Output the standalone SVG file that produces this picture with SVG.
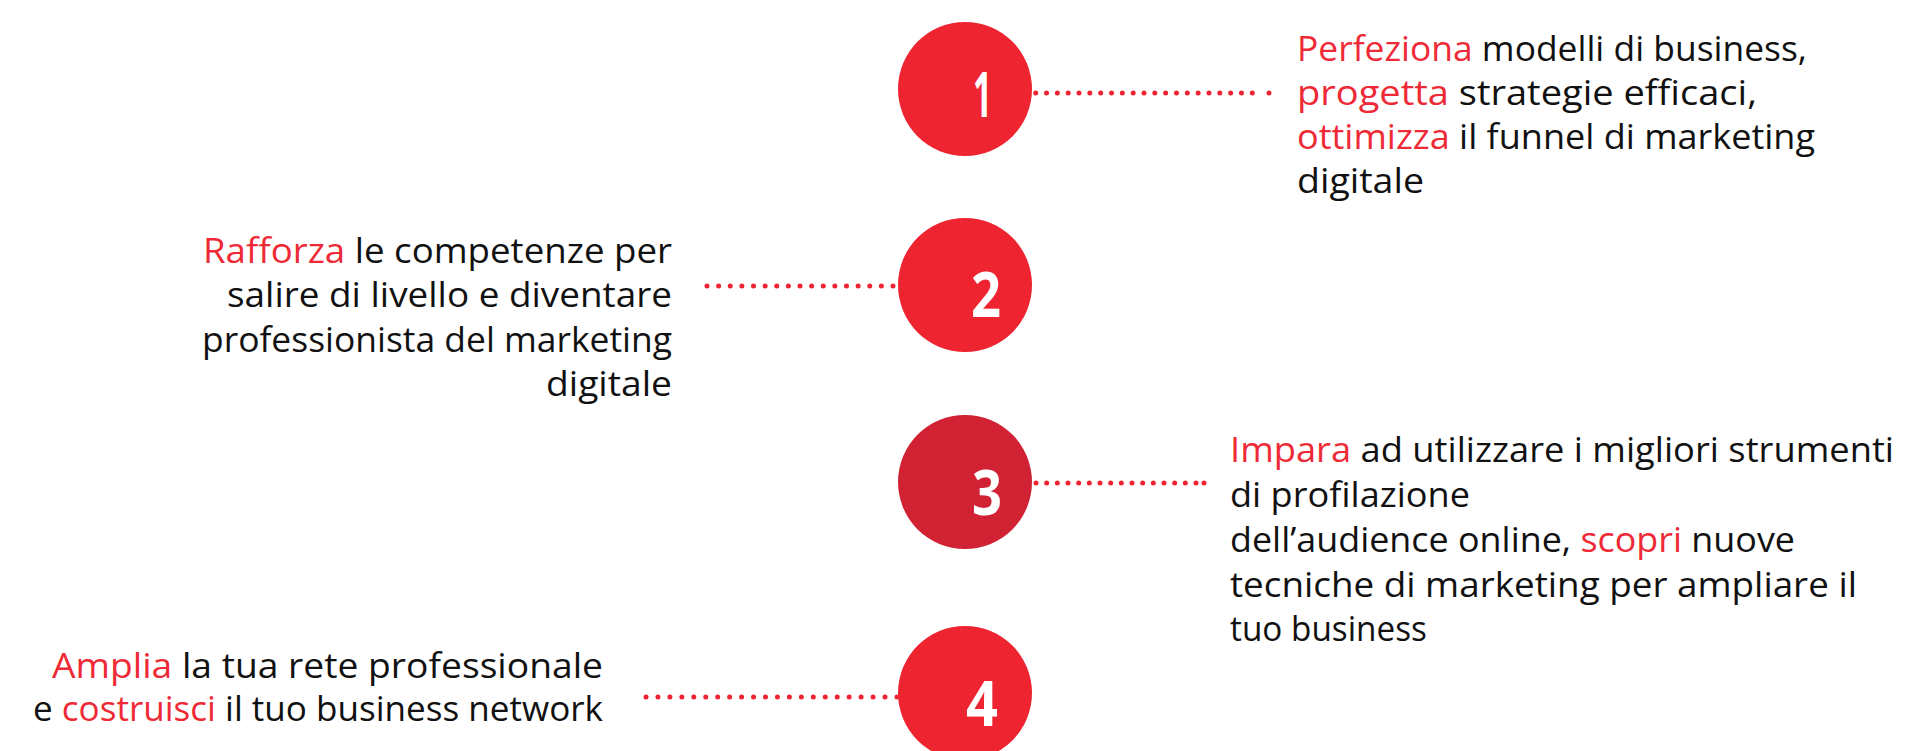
<svg xmlns="http://www.w3.org/2000/svg" width="1911" height="751" viewBox="0 0 1911 751">
<style>
.bg{fill:#ffffff}
.node{fill:#EE2430}
.node3{fill:#D12234}
.num{font-family:"Open Sans","Liberation Sans",sans-serif;font-weight:700;font-size:62px;fill:#ffffff}
.t{font-family:"Open Sans","Liberation Sans",sans-serif;font-size:34px;fill:#111111}
.r{fill:#EE2A36}
.dots{stroke:#EE2430;stroke-width:5;stroke-linecap:round;fill:none}
.dot{fill:#EE2430}
</style>
<rect class="bg" x="0" y="0" width="1911" height="751"/>
<g id="connectors">
  <line class="dots" x1="1035.7" y1="93" x2="1252.8" y2="93" stroke-dasharray="0 10.83"/>
  <circle class="dot" cx="1269" cy="93" r="2.5"/>
  <line class="dots" x1="707" y1="286" x2="893.5" y2="286" stroke-dasharray="0 11.625"/>
  <line class="dots" x1="1036" y1="483" x2="1196.5" y2="483" stroke-dasharray="0 10.667"/>
  <circle class="dot" cx="1204" cy="483" r="2.5"/>
  <line class="dots" x1="646" y1="697" x2="897.5" y2="697" stroke-dasharray="0 11.95"/>
</g>
<g id="node1">
  <circle class="node" cx="965" cy="89" r="67"/>
  <text class="num" x="973" y="117" textLength="19" lengthAdjust="spacingAndGlyphs">1</text>
  <text class="t" x="1297" y="61" textLength="510" lengthAdjust="spacingAndGlyphs"><tspan class="r">Perfeziona</tspan> modelli di business,</text>
  <text class="t" x="1297" y="105" textLength="460" lengthAdjust="spacingAndGlyphs"><tspan class="r">progetta</tspan> strategie efficaci,</text>
  <text class="t" x="1297" y="149" textLength="518" lengthAdjust="spacingAndGlyphs"><tspan class="r">ottimizza</tspan> il funnel di marketing</text>
  <text class="t" x="1297" y="193" textLength="127" lengthAdjust="spacingAndGlyphs">digitale</text>
</g>
<g id="node2">
  <circle class="node" cx="965" cy="285" r="67"/>
  <text class="num" x="971" y="317" textLength="30" lengthAdjust="spacingAndGlyphs">2</text>
  <text class="t" x="203" y="263" textLength="469" lengthAdjust="spacingAndGlyphs"><tspan class="r">Rafforza</tspan> le competenze per</text>
  <text class="t" x="227" y="307" textLength="445" lengthAdjust="spacingAndGlyphs">salire di livello e diventare</text>
  <text class="t" x="202" y="351.5" textLength="470" lengthAdjust="spacingAndGlyphs">professionista del marketing</text>
  <text class="t" x="546" y="396" textLength="126" lengthAdjust="spacingAndGlyphs">digitale</text>
</g>
<g id="node3">
  <circle class="node3" cx="965" cy="482" r="67"/>
  <text class="num" x="972" y="515" textLength="30" lengthAdjust="spacingAndGlyphs">3</text>
  <text class="t" x="1230" y="462" textLength="664" lengthAdjust="spacingAndGlyphs"><tspan class="r">Impara</tspan> ad utilizzare i migliori strumenti</text>
  <text class="t" x="1230" y="507" textLength="240" lengthAdjust="spacingAndGlyphs">di profilazione</text>
  <text class="t" x="1230" y="552" textLength="565" lengthAdjust="spacingAndGlyphs">dell’audience online, <tspan class="r">scopri</tspan> nuove</text>
  <text class="t" x="1230" y="596.5" textLength="627" lengthAdjust="spacingAndGlyphs">tecniche di marketing per ampliare il</text>
  <text class="t" x="1230" y="641" textLength="197" lengthAdjust="spacingAndGlyphs">tuo business</text>
</g>
<g id="node4">
  <circle class="node" cx="965" cy="693" r="67"/>
  <text class="num" x="966" y="726" textLength="32" lengthAdjust="spacingAndGlyphs">4</text>
  <text class="t" x="52" y="678" textLength="551" lengthAdjust="spacingAndGlyphs"><tspan class="r">Amplia</tspan> la tua rete professionale</text>
  <text class="t" x="33" y="721" textLength="570" lengthAdjust="spacingAndGlyphs">e <tspan class="r">costruisci</tspan> il tuo business network</text>
</g>
</svg>
